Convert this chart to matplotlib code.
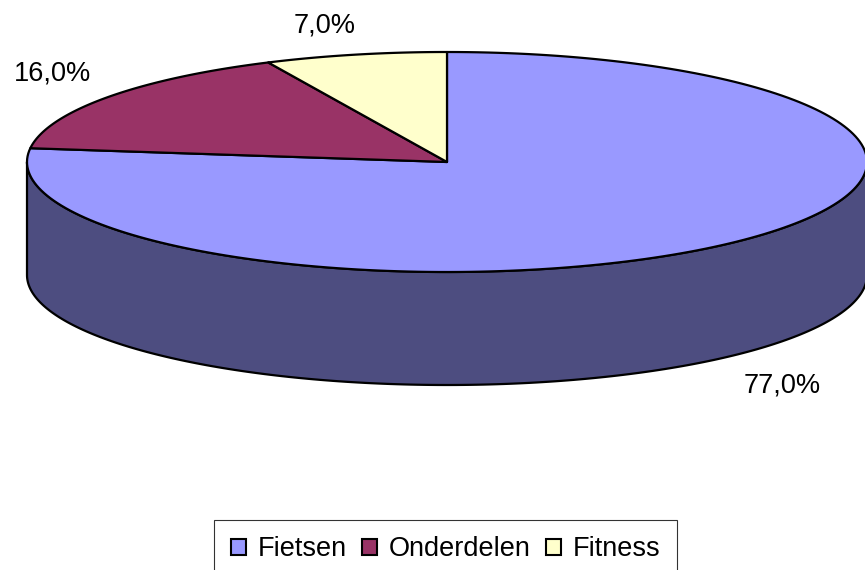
"""3D-taartdiagram omzetverdeling (Fietsen / Onderdelen / Fitness)."""
import numpy as np
import matplotlib.pyplot as plt
from matplotlib.patches import Polygon, Patch

plt.rcParams['font.family'] = ['Liberation Sans', 'DejaVu Sans']

# Gegevens
categories = ["Fietsen", "Onderdelen", "Fitness"]
shares = [77.0, 16.0, 7.0]
top_colors = ["#9999FF", "#993366", "#FFFFCC"]
side_colors = ["#4D4D80", "#4D1A33", "#808066"]

# Geometrie (pixels)
CX, CY = 447, 162
RX, RY = 420, 110
DEPTH = 113


def ellipse_pts(t0, t1, dy=0, n=200):
    t = np.radians(np.linspace(t0, t1, n))
    return np.column_stack([CX + RX * np.cos(t), CY + dy - RY * np.sin(t)])


fig = plt.figure(figsize=(8.65, 5.70), dpi=100)
ax = fig.add_axes([0, 0, 1, 1])
ax.set_xlim(0, 865)
ax.set_ylim(570, 0)
ax.axis("off")

fracs = np.array(shares) / sum(shares)
bounds = 90 - 360 * np.concatenate([[0], np.cumsum(fracs)])

# Zijwanden (alleen voorkant zichtbaar: 180..360 graden)
for i in range(len(shares)):
    a_hi, a_lo = bounds[i], bounds[i + 1]
    for shift in (-360, 0, 360):
        lo = max(a_lo + shift, 180)
        hi = min(a_hi + shift, 360)
        if hi > lo:
            top = ellipse_pts(lo, hi)
            bot = ellipse_pts(hi, lo, dy=DEPTH)
            ax.add_patch(Polygon(np.vstack([top, bot]), closed=True,
                                 facecolor=side_colors[i], edgecolor="black",
                                 linewidth=1.6, joinstyle="round"))

# Bovenkant
for i in range(len(shares)):
    arc = ellipse_pts(bounds[i], bounds[i + 1])
    pts = np.vstack([[CX, CY], arc])
    ax.add_patch(Polygon(pts, closed=True, facecolor=top_colors[i],
                         edgecolor="black", linewidth=1.6, joinstyle="round"))

# Labels
label_pos = [(782, 385), (52, 74), (325, 25)]
for val, (x, y) in zip(shares, label_pos):
    ax.text(x, y, f"{val:.1f}%".replace(".", ","), fontsize=19.5,
            ha="center", va="center", color="black")

# Legenda
handles = [Patch(facecolor=c, edgecolor="black", linewidth=1.5) for c in top_colors]
leg = fig.legend(handles, categories, loc="upper center", ncol=3,
                 bbox_to_anchor=(445.5 / 865, 1 - 520 / 570),
                 fontsize=19.5, frameon=True, fancybox=False,
                 handlelength=0.55, handleheight=0.55, handletextpad=0.45,
                 columnspacing=0.55, borderpad=0.6, borderaxespad=0)
leg.get_frame().set_edgecolor("black")
leg.get_frame().set_linewidth(0.8)

fig.savefig("out.png", dpi=100, facecolor="white")
